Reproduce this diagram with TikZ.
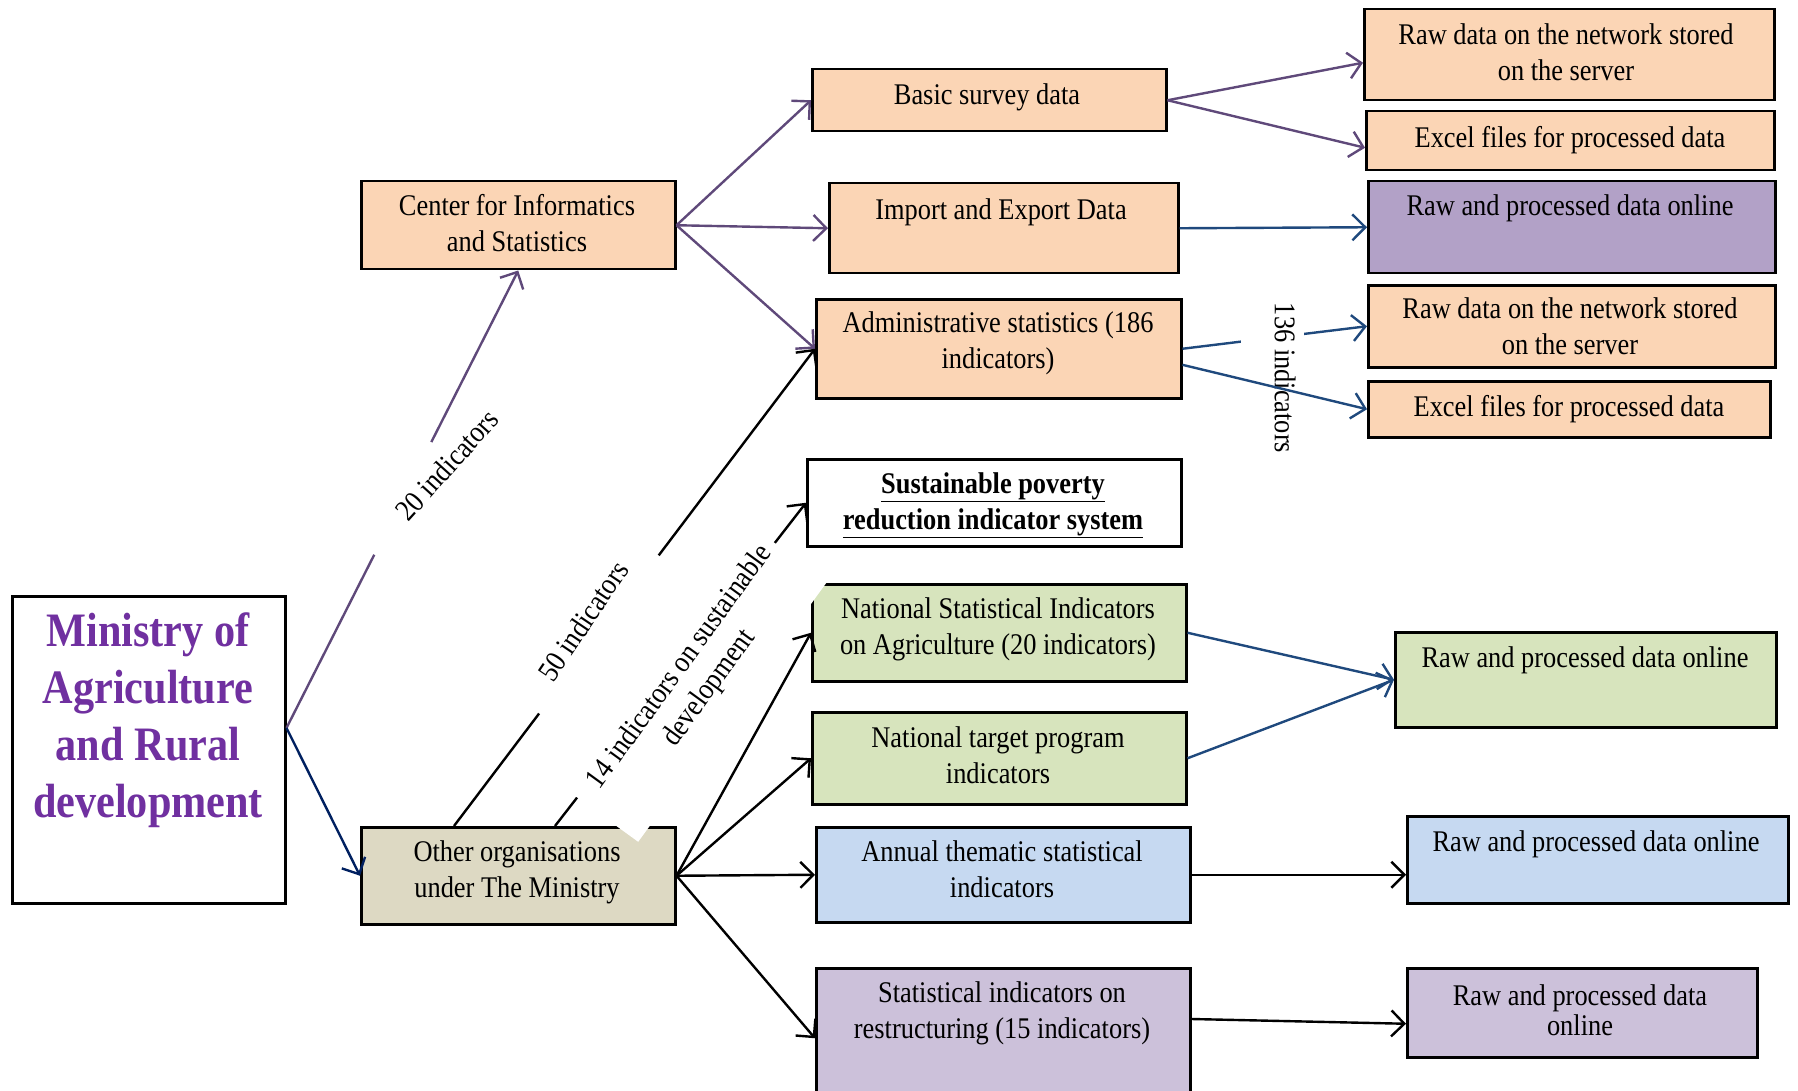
\documentclass[tikz,border=0pt]{standalone}
\usepackage{fontspec}
\setmainfont{Liberation Serif}[FakeStretch=0.88]
\usetikzlibrary{arrows.meta,calc}
\definecolor{peach}{HTML}{FBD5B5}
\definecolor{lilac}{HTML}{B2A1C7}
\definecolor{sage}{HTML}{D7E4BD}
\definecolor{skyb}{HTML}{C6D9F1}
\definecolor{lav}{HTML}{CCC1DA}
\definecolor{tanb}{HTML}{DDD9C3}
\definecolor{minpurple}{HTML}{7030A0}
\definecolor{arrpurple}{HTML}{5F497A}
\definecolor{arrblue}{HTML}{1F497D}
\definecolor{navyc}{HTML}{002060}
\tikzset{
  box/.style={draw=black, line width=2.5pt, rectangle, anchor=north west, inner sep=0pt},
  txt/.style={align=center, inner sep=0pt, font=\fontsize{30}{36}\selectfont},
  lbl/.style={align=center, inner sep=0pt, font=\fontsize{30}{36}\selectfont},
  mask/.style={fill=white, inner sep=0pt, rectangle},
  arr/.style={line width=2.4pt, -{Straight Barb[length=13pt,width=26pt,line width=2.4pt]}},
}
\begin{document}
\begin{tikzpicture}[x=1pt,y=-1pt]
\useasboundingbox (0,0) rectangle (1798,1091);
% boxes
\node[box, fill=white, minimum width=273, minimum height=307] (min) at (11,595) {};
\node[box, fill=peach, minimum width=314, minimum height=88] (cis) at (360,180) {};
\node[box, fill=peach, minimum width=354, minimum height=62] (bsd) at (811,68) {};
\node[box, fill=peach, minimum width=349, minimum height=90] (imp) at (828,182) {};
\node[box, fill=peach, minimum width=365, minimum height=99] (adm) at (815,298) {};
\node[box, fill=white, minimum width=374, minimum height=87] (spr) at (806,458) {};
\node[box, fill=sage, minimum width=374, minimum height=97] (nsi) at (811,583) {};
\node[box, fill=sage, minimum width=374, minimum height=92] (ntp) at (811,711) {};
\node[box, fill=skyb, minimum width=374, minimum height=95] (ann) at (815,826) {};
\node[box, fill=lav, minimum width=374, minimum height=140] (res) at (815,967) {};
\node[box, fill=tanb, minimum width=314, minimum height=97] (oth) at (360,826) {};
\node[box, fill=peach, minimum width=410, minimum height=91] (rw1) at (1363,8) {};
\node[box, fill=peach, minimum width=408, minimum height=59] (xl1) at (1365,110) {};
\node[box, fill=lilac, minimum width=407, minimum height=92] (pon) at (1367,180) {};
\node[box, fill=peach, minimum width=407, minimum height=82] (rw2) at (1367,284) {};
\node[box, fill=peach, minimum width=402, minimum height=56] (xl2) at (1367,380) {};
\node[box, fill=sage, minimum width=381, minimum height=95] (gon) at (1394,631) {};
\node[box, fill=skyb, minimum width=381, minimum height=87] (bon) at (1406,815) {};
\node[box, fill=lav, minimum width=350, minimum height=89] (lon) at (1406,967) {};
% texts
\node[align=center, inner sep=0pt, text=minpurple, font=\fontsize{48}{57}\selectfont\bfseries] (mint) at (148,720) {Ministry of\\Agriculture\\and Rural\\development};
\node[txt] (cist) at (517,223) {Center for Informatics\\and Statistics};
\node[txt] (bsdt) at (987,97) {Basic survey data};
\node[txt] (impt) at (1001,212) {Import and Export Data};
\node[txt] (admt) at (998,343) {Administrative statistics (186\\indicators)};
\node[txt, font=\fontsize{30}{36}\selectfont\bfseries] (sprt) at (993,505) {\underline{Sustainable poverty}\\\underline{reduction indicator system}};
\node[txt] (nsit) at (998,629) {National Statistical Indicators\\on Agriculture (20 indicators)};
\node[txt] (ntpt) at (998,755) {National target program\\indicators};
\node[txt] (annt) at (1002,869) {Annual thematic statistical\\indicators};
\node[txt] (rest) at (1002,1013) {Statistical indicators on\\restructuring (15 indicators)};
\node[txt] (otht) at (517,872) {Other organisations\\under The Ministry};
\node[txt] (rw1t) at (1566,52) {Raw data on the network stored\\on the server};
\node[txt] (xl1t) at (1570,140) {Excel files for processed data};
\node[txt] (pont) at (1570,208) {Raw and processed data online};
\node[txt] (rw2t) at (1570,326) {Raw data on the network stored\\on the server};
\node[txt] (xl2t) at (1569,409) {Excel files for processed data};
\node[txt] (gont) at (1585,660) {Raw and processed data online};
\node[txt] (bont) at (1596,844) {Raw and processed data online};
\node[txt, font=\fontsize{30}{30}\selectfont] (lont) at (1580,1010) {Raw and processed data\\online};
% connectors
\draw[arr, arrpurple] (min.9) -- (cis.south);
\draw[arr, navyc] (min.9) -- (oth.west);
\draw[arr, arrpurple] (cis.east) -- (bsd.west);
\draw[arr, arrpurple] (cis.east) -- (imp.west);
\draw[arr, arrpurple] (cis.east) -- (adm.west);
\draw[arr, arrpurple] (bsd.east) -- ($(rw1.west)+(0,8)$);
\draw[arr, arrpurple] (bsd.east) -- ($(xl1.west)+(0,7)$);
\draw[arr, arrblue] (imp.east) -- (pon.west);
\draw[arr, arrblue] (adm.east) -- (rw2.west);
\draw[arr, black] ($(oth.north west)+(94,0)$) -- (adm.west);
\draw[arr, black] ($(oth.north west)+(195,0)$) -- (spr.west);
\draw[arr, black] (oth.east) -- (nsi.west);
\draw[arr, black] (oth.east) -- (ntp.west);
\draw[arr, black] (oth.east) -- (ann.west);
\draw[arr, black] (oth.east) -- (res.west);
\draw[arr, arrblue] (nsi.east) -- (gon.west);
\draw[arr, arrblue] (ntp.east) -- (gon.west);
\draw[arr, black] (ann.east) -- (ann.east -| bon.west);
\draw[arr, black] ($(res.north east)+(0,52)$) -- ($(lon.west)+(0,11)$);
% white gaps behind the connector labels
\node[mask, rotate=64, minimum width=126, minimum height=26] (gap20) at (400,497) {};
\node[mask, rotate=53, minimum width=198, minimum height=58] (gap50) at (597,633) {};
\node[mask, rotate=54, minimum width=322, minimum height=138] (gap14) at (677,671) {};
\node[mask, minimum width=63, minimum height=30] (gap136) at (1272,336) {};
% labels on connectors
\node[lbl, rotate=48] (l20) at (447,465) {20 indicators};
\node[lbl, rotate=56] (l50) at (583,621) {50 indicators};
\node[lbl, rotate=54] (l14) at (695,678) {14 indicators on sustainable\\development};
\node[lbl, rotate=-90] (l136) at (1285,378) {136 indicators};
\draw[arr, arrblue] (adm.-5) -- (xl2.west);
\end{tikzpicture}
\end{document}
